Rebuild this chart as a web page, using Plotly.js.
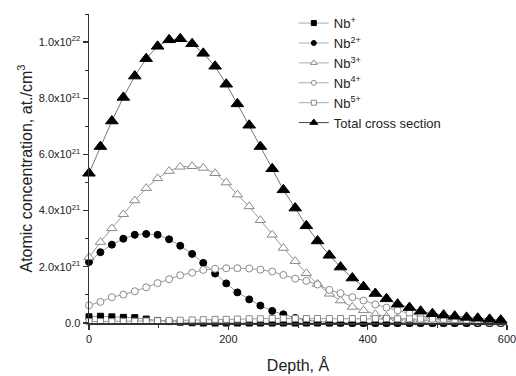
<!DOCTYPE html>
<html>
<head>
<meta charset="utf-8">
<script src="https://cdn.plot.ly/plotly-3.0.1.min.js"></script>
<style>html,body{margin:0;padding:0;background:#fff;}#chart{width:516px;height:376px;}</style>
</head>
<body>
<div id="chart"></div>
<script>
// Depth, Angstrom
const depth = [0,16.4,32.8,49.3,65.7,82.1,98.5,115,131,148,164,181,197,213,230,246,263,279,296,312,328,345,361,378,394,411,427,443,460,476,493,509,525,542,558,575,591];
// Concentrations in units of 1e21 at./cm3
const nb1 = [0.22,0.24,0.22,0.20,0.19,0.14,0.09,0.05,0.03,0.01,0,0,0,0,0,0,0,0,0,0,0,0,0,0,0,0,0,0,0,0,0,0,0,0,0,0,0];
const nb2 = [2.17,2.52,2.79,3.00,3.14,3.17,3.14,2.98,2.75,2.46,2.14,1.76,1.41,1.09,0.84,0.62,0.43,0.31,0.18,0.10,0.05,0.02,0.01,0,0,0,0,0,0,0,0,0,0,0,0,0,0];
const nb3 = [2.34,2.88,3.37,3.87,4.36,4.80,5.15,5.41,5.56,5.58,5.52,5.33,5.00,4.57,4.15,3.66,3.14,2.67,2.20,1.77,1.39,1.04,0.80,0.57,0.45,0.31,0.22,0.16,0.12,0.09,0.07,0.05,0.04,0.03,0.03,0.02,0.02];
const nb4 = [0.63,0.75,0.92,1.01,1.13,1.27,1.42,1.56,1.70,1.79,1.89,1.93,1.95,1.95,1.94,1.90,1.83,1.71,1.58,1.50,1.37,1.18,1.06,0.92,0.80,0.66,0.55,0.45,0.34,0.24,0.17,0.12,0.08,0.06,0.04,0.03,0.02];
const nb5 = [0.05,0.05,0.05,0.06,0.06,0.07,0.08,0.09,0.10,0.11,0.12,0.13,0.13,0.14,0.15,0.15,0.16,0.16,0.16,0.16,0.16,0.16,0.16,0.16,0.16,0.16,0.16,0.15,0.15,0.14,0.14,0.13,0.12,0.11,0.10,0.09,0.08];
const total = [5.33,6.28,7.19,8.03,8.79,9.41,9.85,10.08,10.12,9.94,9.60,9.14,8.50,7.80,7.04,6.28,5.49,4.74,4.09,3.46,2.92,2.41,1.99,1.60,1.29,1.05,0.86,0.67,0.55,0.42,0.33,0.28,0.24,0.20,0.17,0.13,0.10];

const seriesNames = ["Nb<sup>+</sup>","Nb<sup>2+</sup>","Nb<sup>3+</sup>","Nb<sup>4+</sup>","Nb<sup>5+</sup>","Total cross section"];
const yTickVals = [0,2,4,6,8,10];
const yTickText = ["0.0","2.0x10<sup>21</sup>","4.0x10<sup>21</sup>","6.0x10<sup>21</sup>","8.0x10<sup>21</sup>","1.0x10<sup>22</sup>"];
const xTickVals = [0,200,400,600];

const lineCol = '#9a9a9a';
const styles = [
  {symbol:'square', size:6, color:'#000', lc:'#000', legSize:5},
  {symbol:'circle', size:7, color:'#000', lc:'#000', legSize:5},
  {symbol:'triangle-up', size:9, color:'#fff', lc:'#8a8a8a', legSize:6},
  {symbol:'circle', size:7, color:'#fff', lc:'#8a8a8a', legSize:5},
  {symbol:'square', size:6, color:'#fff', lc:'#8a8a8a', legSize:5},
  {symbol:'triangle-up', size:11, color:'#000', lc:'#000', legSize:7}
];
const data = [nb1, nb2, nb3, nb4, nb5, total];

const traces = [];
data.forEach((ys, k) => {
  const s = styles[k];
  traces.push({
    x: depth, y: ys, type:'scatter', mode:'lines+markers', showlegend:false,
    cliponaxis:false,
    line:{color: k===5 ? '#777' : lineCol, width:1},
    marker:{symbol:s.symbol, size:s.size, color:s.color, line:{color:s.lc, width:1}}
  });
});
data.forEach((ys, k) => {
  const s = styles[k];
  traces.push({
    x:[null], y:[null], type:'scatter', mode:'lines+markers', name: seriesNames[k],
    legendgroup:'g'+k,
    line:{color: k===5 ? '#444' : '#aaa', width:1},
    marker:{symbol:s.symbol, size:s.legSize, color:s.color, line:{color:s.lc, width:1}}
  });
});

const font = {family:'"Liberation Sans", Arial, sans-serif', color:'#222'};
const layout = {
  width:516, height:376,
  margin:{l:89, r:9, t:8, b:53},
  paper_bgcolor:'#fff', plot_bgcolor:'#fff',
  font: Object.assign({size:11}, font),
  showlegend:true,
  legend:{x:0.49, y:1.019, xanchor:'left', yanchor:'top',
          font:Object.assign({size:13}, font), bgcolor:'rgba(0,0,0,0)',
          traceorder:'grouped', tracegroupgap:0},
  xaxis:{range:[0,600], showgrid:false, zeroline:false, showline:true, linecolor:'#333', linewidth:1.5,
         tickmode:'array', tickvals:xTickVals, ticks:'outside', ticklen:5, tickwidth:1.2, tickcolor:'#333',
         minor:{tickmode:'linear', tick0:0, dtick:100, ticks:'outside', ticklen:3, tickcolor:'#333', tickwidth:1},
         tickfont:Object.assign({size:11}, font), automargin:false, ticklabeloverflow:'allow',
         title:{text:'Depth, Å', font:Object.assign({size:16}, font), standoff:16}},
  yaxis:{range:[0,11], showgrid:false, zeroline:false, showline:true, linecolor:'#333', linewidth:1.5,
         tickmode:'array', tickvals:yTickVals, ticktext:yTickText, ticks:'outside', ticklen:5, tickwidth:1.2, tickcolor:'#333',
         minor:{tickmode:'linear', tick0:0, dtick:1, ticks:'outside', ticklen:3, tickcolor:'#333', tickwidth:1},
         tickfont:Object.assign({size:11}, font), automargin:false,
         title:{text:'Atomic concentration, at./cm<sup>3</sup>', font:Object.assign({size:16}, font), standoff:2}}
};

Plotly.newPlot('chart', traces, layout, {displayModeBar:false, staticPlot:true});
</script>
</body>
</html>
